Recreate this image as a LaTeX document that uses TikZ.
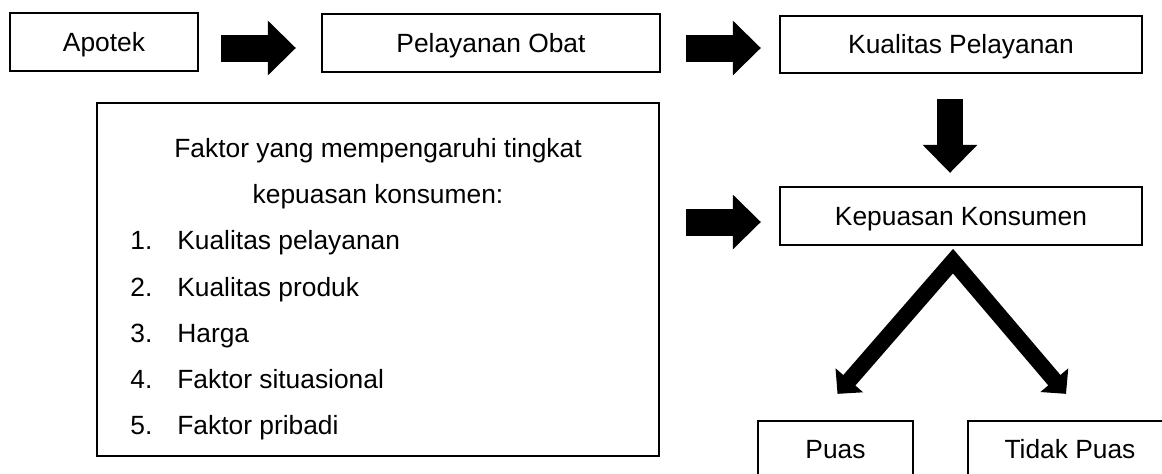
\documentclass[tikz,border=0pt]{standalone}
\usepackage{fontspec}
\setmainfont{Liberation Sans}
\usetikzlibrary{arrows.meta, calc}

\begin{document}
\begin{tikzpicture}[
  flowbox/.style={draw, line width=1.3pt, minimum height=1.16cm, inner sep=0pt,
                  font=\fontsize{15}{18}\selectfont, text height=2ex, text depth=0pt},
  listtext/.style={font=\fontsize{15}{18}\selectfont, inner sep=0pt},
  blockarrow/.style={line width=0.54cm, -{Triangle[width=1.06cm, length=0.56cm]}},
  splitarrow/.style={line width=0.32cm, miter limit=20,
                     {Triangle[width=0.71cm, length=0.36cm]}-{Triangle[width=0.71cm, length=0.36cm]}}
]

% Frame of the picture
\useasboundingbox (0,0) rectangle (23.24,-9.46);
\clip (0,0) rectangle (23.24,-9.46);

% Top row
\node[flowbox, minimum width=3.76cm] (apotek) at (2.08,-0.84) {Apotek};
\node[flowbox, minimum width=6.76cm] (pelayanan) at (9.82,-0.86) {Pelayanan Obat};
\node[flowbox, minimum width=7.24cm, minimum height=1.14cm] (kualitas) at (19.22,-0.89) {Kualitas Pelayanan};

% Right column
\node[flowbox, minimum width=7.24cm] (kepuasan) at (19.22,-4.32) {Kepuasan Konsumen};
\node[flowbox, minimum width=3.10cm, minimum height=1.14cm] (puas) at (16.71,-8.99) {Puas};
\node[flowbox, minimum width=4.08cm, minimum height=1.14cm] (tidak) at (21.40,-8.99) {Tidak Puas};

% Factor box
\node[draw, line width=1.3pt, minimum width=11.24cm, minimum height=7.06cm] (faktor) at (7.56,-5.59) {};
\node[listtext, anchor=base] (judul1) at (7.56,-3.14) {Faktor yang mempengaruhi tingkat};
\node[listtext, anchor=base] (judul2) at (7.56,-4.06) {kepuasan konsumen:};
\node[listtext, anchor=base west] (no1) at (2.60,-4.98) {1.};
\node[listtext, anchor=base west] (f1) at (3.54,-4.98) {Kualitas pelayanan};
\node[listtext, anchor=base west] (no2) at (2.60,-5.92) {2.};
\node[listtext, anchor=base west] (f2) at (3.54,-5.92) {Kualitas produk};
\node[listtext, anchor=base west] (no3) at (2.60,-6.84) {3.};
\node[listtext, anchor=base west] (f3) at (3.54,-6.84) {Harga};
\node[listtext, anchor=base west] (no4) at (2.60,-7.76) {4.};
\node[listtext, anchor=base west] (f4) at (3.54,-7.76) {Faktor situasional};
\node[listtext, anchor=base west] (no5) at (2.60,-8.68) {5.};
\node[listtext, anchor=base west] (f5) at (3.54,-8.68) {Faktor pribadi};

% Block arrows
\draw[blockarrow, shorten <=0.44cm, shorten >=0.50cm]
  ([yshift=-0.12cm]apotek.east) -- ([yshift=-0.12cm]apotek.east -| pelayanan.west);
\draw[blockarrow, shorten <=0.50cm, shorten >=0.36cm]
  ([yshift=-0.10cm]pelayanan.east) -- ([yshift=-0.10cm]pelayanan.east -| kualitas.west);
\draw[blockarrow, line width=0.52cm, shorten <=0.50cm, shorten >=0.26cm]
  ([xshift=-0.22cm]kualitas.south) -- ([xshift=-0.22cm]kualitas.south |- kepuasan.north);
\draw[blockarrow, shorten <=0.52cm, shorten >=0.36cm]
  ([yshift=-0.12cm]kepuasan.west -| faktor.east) -- ([yshift=-0.12cm]kepuasan.west);

% Split into satisfied / not satisfied
\coordinate (puncak) at ([xshift=-0.16cm, yshift=-0.30cm]kepuasan.south);
\draw[splitarrow] ([xshift=0.04cm, yshift=0.52cm]puas.north) -- (puncak) -- ([xshift=-0.08cm, yshift=0.52cm]tidak.north);

\end{tikzpicture}
\end{document}
